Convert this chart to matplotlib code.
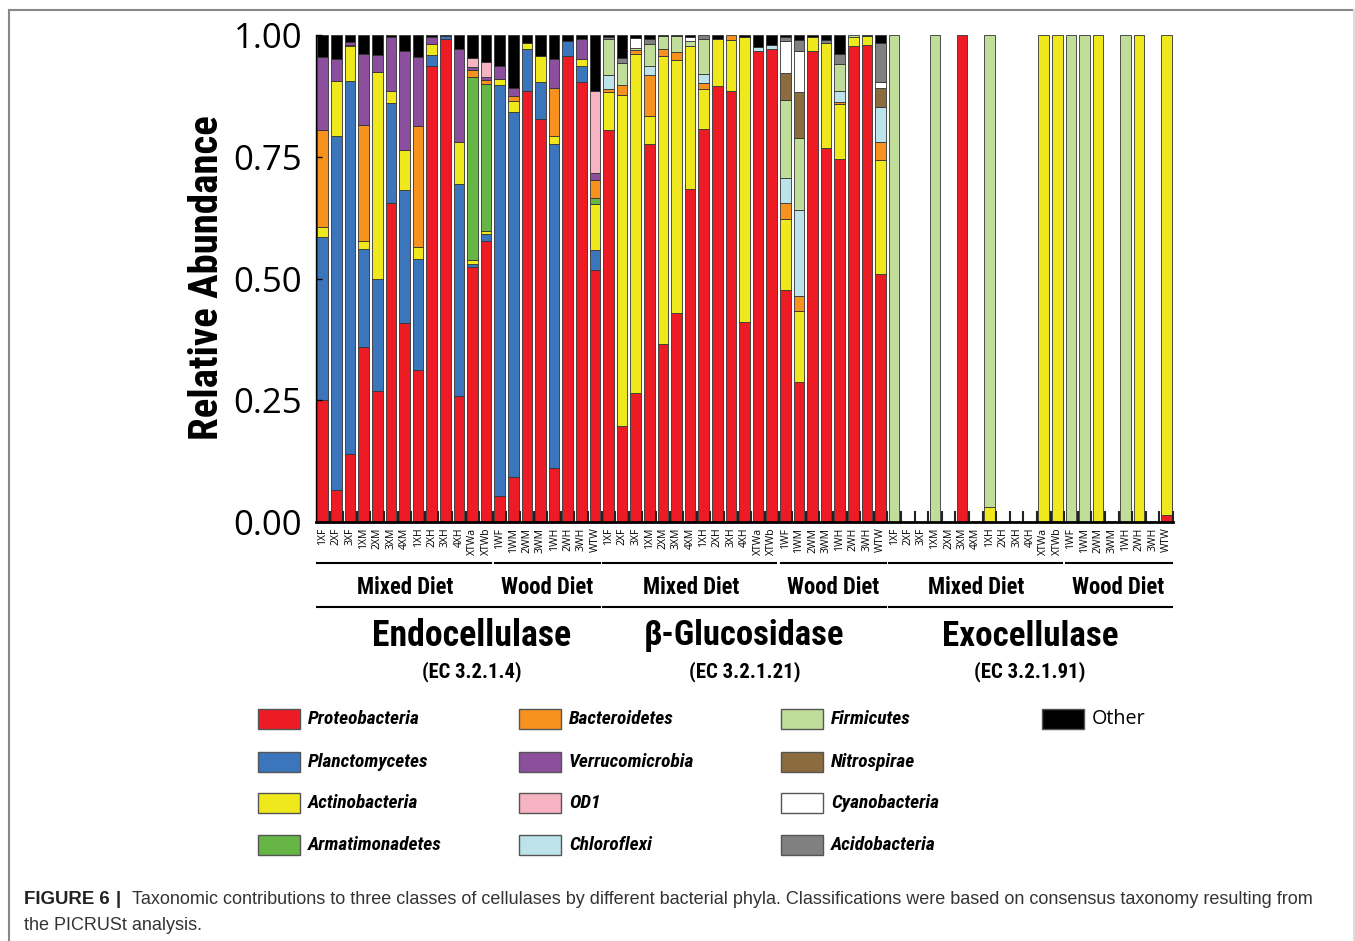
import os
import numpy as np
import matplotlib.pyplot as plt
from matplotlib import font_manager as fm
from matplotlib.patches import Rectangle
from matplotlib.transforms import blended_transform_factory

# sample names, repeated for each enzyme class
samples = ['1XF', '2XF', '3XF', '1XM', '2XM', '3XM', '4XM', '1XH', '2XH', '3XH', '4XH',
           'XTWa', 'XTWb', '1WF', '1WM', '2WM', '3WM', '1WH', '2WH', '3WH', 'WTW']
enzymes = ['Endocellulase', 'β-Glucosidase', 'Exocellulase']
ec_numbers = ['(EC 3.2.1.4)', '(EC 3.2.1.21)', '(EC 3.2.1.91)']
diets = ['Mixed Diet', 'Wood Diet']

phyla = ['Proteobacteria', 'Planctomycetes', 'Actinobacteria', 'Armatimonadetes',
         'Bacteroidetes', 'Verrucomicrobia', 'OD1', 'Chloroflexi',
         'Firmicutes', 'Nitrospirae', 'Cyanobacteria', 'Acidobacteria', 'Other']
colors = ['#ed1c24', '#3b75bb', '#eee81c', '#67b645', '#f7921e', '#8b4f9e', '#f6b3c2',
          '#bde3ea', '#c1dd9a', '#8b6c3f', '#ffffff', '#808080', '#000000']

# relative abundance, endocellulase | beta-glucosidase | exocellulase
proteo = ([.25, .065, .14, .36, .268, .656, .409, .313, .937, .991, .259, .523, .576, .053, .093, .884, .828, .11, .956, .903, .518]
          + [.804, .198, .265, .777, .365, .429, .684, .807, .896, .884, .41, .968, .972, .476, .288, .967, .767, .746, .978, .98, .51]
          + [0, 0, 0, 0, 0, 1, 0, 0, 0, 0, 0, 0, 0, 0, 0, 0, 0, 0, 0, 0, .015])
plancto = ([.335, .728, .765, .2, .232, .204, .273, .227, .022, .006, .436, .007, .015, .845, .748, .087, .075, .667, .032, .034, .04]
           + [0] * 21 + [0] * 21)
actino = ([.02, .112, .072, .018, .424, .025, .081, .024, .022, 0, .085, .008, .007, .011, .023, .013, .053, .016, 0, .013, .094]
          + [.079, .679, .697, .056, .591, .52, .294, .083, .096, .106, .585, 0, 0, .146, .146, .028, .217, .112, .017, .017, .233]
          + [0, 0, 0, 0, 0, 0, 0, .03, 0, 0, 0, 1, 1, 0, 0, 1, 0, 0, 1, 0, .985])
armat = ([0, 0, .003, 0, 0, 0, 0, 0, 0, 0, 0, .375, .302, 0, 0, 0, 0, 0, 0, 0, .014]
         + [0] * 21 + [0] * 21)
bactero = ([.2, 0, 0, .238, 0, 0, 0, .25, 0, 0, 0, .016, .008, 0, .01, 0, 0, .098, 0, 0, .037]
           + [.006, .021, .008, .084, .015, .016, 0, .012, 0, .01, 0, 0, 0, .034, .031, 0, 0, .004, 0, 0, .037]
           + [0] * 21)
verruco = ([.15, .045, .005, .144, .034, .11, .205, .14, .014, 0, .191, .005, .005, .028, .017, 0, 0, .059, 0, .042, .014]
           + [0] * 21 + [0] * 21)
od1 = ([0, 0, 0, 0, 0, 0, 0, 0, 0, 0, 0, .018, .031, 0, 0, 0, 0, 0, 0, 0, .168]
       + [0] * 21 + [0] * 21)
chloro = ([0] * 21
          + [.029, 0, 0, .02, 0, 0, 0, .018, 0, 0, 0, .007, .008, .051, .176, 0, 0, .023, 0, 0, .073]
          + [0] * 21)
firmi = ([0] * 21
         + [.074, .045, .004, .045, .026, .033, .01, .072, 0, 0, 0, 0, 0, .159, .148, 0, 0, .056, .005, 0, 0]
         + [1, 0, 0, 1, 0, 0, 0, .97, 0, 0, 0, 0, 0, 1, 1, 0, 0, 1, 0, 0, 0])
nitro = ([0] * 21
         + [0, 0, 0, 0, 0, 0, 0, 0, 0, 0, 0, 0, 0, .056, .093, 0, 0, 0, 0, 0, .038]
         + [0] * 21)
cyano = ([0] * 21
         + [0, 0, .02, 0, 0, 0, .008, 0, 0, 0, 0, 0, 0, .066, .086, 0, 0, 0, 0, 0, .012]
         + [0] * 21)
acido = ([0] * 21
         + [.004, .009, 0, .01, 0, 0, 0, .008, 0, 0, 0, 0, 0, .008, .022, 0, .006, .02, 0, 0, .08]
         + [0] * 21)
other = ([.045, .05, .015, .04, .042, .005, .032, .046, .005, .003, .029, .048, .056, .063, .109, .016, .044, .05, .012, .008, .115]
         + [.004, .048, .006, .008, .003, .002, .004, 0, .008, 0, .005, .025, .02, .004, .01, .005, .01, .039, 0, .003, .017]
         + [0] * 21)
abundance = [proteo, plancto, actino, armat, bactero, verruco, od1, chloro,
             firmi, nitro, cyano, acido, other]


def condensed_font(italic=False):
    # look for an installed bold condensed/narrow face, else fall back to Roboto
    prefs = ['liberationsansnarrow', 'robotocondensed', 'opensans', 'notosans', 'dejavusans', '']
    best, best_rank = None, 99
    for f in fm.fontManager.ttflist:
        base = os.path.basename(f.fname).lower().replace('-', '').replace('_', '')
        if 'condensed' not in base and 'narrow' not in base:
            continue
        if 'extra' in base or 'semi' in base or 'ultra' in base:
            continue
        if 'bold' not in base:
            continue
        if ('italic' in base or 'oblique' in base) != italic:
            continue
        rank = next(i for i, p in enumerate(prefs) if base.startswith(p))
        if rank < best_rank:
            best, best_rank = f.fname, rank
    if best:
        return fm.FontProperties(fname=best)
    return fm.FontProperties(family='Roboto', weight='bold', style='italic' if italic else 'normal')


cond = condensed_font()
cond_it = condensed_font(italic=True)

fig = plt.figure(figsize=(13.55, 9.41), dpi=100)
renderer = fig.canvas.get_renderer()


def fit(t, target, vertical=False):
    bb = t.get_window_extent(renderer)
    cur = bb.height if vertical else bb.width
    t.set_fontsize(t.get_fontsize() * target / cur)


# overlay in pixel coordinates for annotations, legend and caption
ov = fig.add_axes([0, 0, 1, 1])
ov.set_xlim(0, 1355)
ov.set_ylim(941, 0)
ov.axis('off')

ax = fig.add_axes([316 / 1355, 419 / 941, 857 / 1355, 487 / 941])
x = np.arange(len(samples) * 3)
bottom = np.zeros(len(x))
for name, vals, col in zip(phyla, abundance, colors):
    v = np.array(vals, dtype=float)
    m = v > 0
    ax.bar(x[m], v[m], 0.78, bottom=bottom[m], color=col, edgecolor='#333333', linewidth=0.6)
    bottom += v

ax.set_xlim(-0.5, len(x) - 0.5)
ax.set_ylim(0, 1)
ax.set_yticks([0, 0.25, 0.5, 0.75, 1.0])
ax.set_yticklabels(['0.00', '0.25', '0.50', '0.75', '1.00'], family='Open Sans', fontsize=25)
ax.tick_params(axis='y', direction='in', length=4, width=1, pad=10)
ax.set_xticks(x)
ax.set_xticklabels(samples * 3, rotation=90, family='Open Sans', fontsize=7.5)
ax.tick_params(axis='x', length=0, pad=4)
ax.set_xticks(np.arange(len(x)) + 0.5, minor=True)
ax.tick_params(axis='x', which='minor', direction='in', length=8, width=1.5, color='#222222')
ax.spines['top'].set_visible(False)
ax.spines['right'].set_visible(False)
ax.spines['bottom'].set_linewidth(2)
ax.spines['left'].set_linewidth(1)

ylab = ov.text(207, 278, 'Relative Abundance', rotation=90, ha='center', va='center',
               fontproperties=cond, fontsize=36)
fit(ylab, 325, vertical=True)

# group brackets under the tick labels
tr = blended_transform_factory(ax.transData, ov.transData)
enzyme_x = [10.95, 10, 10]
for g in range(3):
    off = g * 21
    ov.plot([off - 0.4, off + 12.35], [563, 563], color='black', lw=1.5, transform=tr)
    ov.plot([off + 12.65, off + 20.4], [563, 563], color='black', lw=1.5, transform=tr)
    t1 = ov.text(off + 6.05, 588, diets[0], transform=tr, ha='center', va='center',
                 fontproperties=cond, fontsize=17)
    fit(t1, 97)
    t2 = ov.text(off + 16.5, 588, diets[1], transform=tr, ha='center', va='center',
                 fontproperties=cond, fontsize=17)
    fit(t2, 93)
    ov.plot([off - 0.4, off + 20.4], [607, 607], color='black', lw=1.5, transform=tr)
    t3 = ov.text(off + enzyme_x[g], 636, enzymes[g], transform=tr, ha='center', va='center',
                 fontproperties=cond, fontsize=28)
    fit(t3, [199, 200, 176][g])
    t4 = ov.text(off + enzyme_x[g], 672, ec_numbers[g], transform=tr, ha='center', va='center',
                 fontproperties=cond, fontsize=15)
    fit(t4, [100, 112, 112][g])

# legend, column-major 4 rows
col_x = [258, 519, 781, 1042]
row_y = [719, 762, 803, 845]
leg_size = None
for i, (name, col) in enumerate(zip(phyla, colors)):
    cx = col_x[i // 4]
    cy = row_y[i % 4]
    ov.add_patch(Rectangle((cx, cy - 10), 42, 20, facecolor=col, edgecolor='#555555', lw=1))
    if name == 'Other':
        t = ov.text(cx + 50, cy, name, ha='left', va='center', family='Open Sans', fontsize=14)
        fit(t, 54)
    else:
        t = ov.text(cx + 50, cy, name, ha='left', va='center', fontproperties=cond_it, fontsize=15)
        if leg_size is None:
            fit(t, 112)
            leg_size = t.get_fontsize()
        t.set_fontsize(leg_size)

# caption
c1 = ov.text(24, 900, 'FIGURE 6', ha='left', va='center', family='Liberation Sans',
             fontweight='bold', fontsize=12, color='#222222')
fit(c1, 86)
ov.text(116, 900, '|', ha='left', va='center', family='Liberation Sans', fontweight='bold',
        fontsize=c1.get_fontsize(), color='#222222')
c2 = ov.text(132, 900, 'Taxonomic contributions to three classes of cellulases by different bacterial phyla. '
             'Classifications were based on consensus taxonomy resulting from',
             ha='left', va='center', family='Liberation Sans', fontsize=12, color='#333333')
fit(c2, 1184)
ov.text(24, 925, 'the PICRUSt analysis.', ha='left', va='center', family='Liberation Sans',
        fontsize=c2.get_fontsize(), color='#333333')

# figure frame
ov.plot([9, 1354], [10, 10], color='#888888', lw=1.5)
ov.plot([9, 9], [10, 941], color='#888888', lw=1.5)
ov.plot([1354, 1354], [10, 941], color='#dddddd', lw=1.5)

fig.savefig('out.png', dpi=100)
